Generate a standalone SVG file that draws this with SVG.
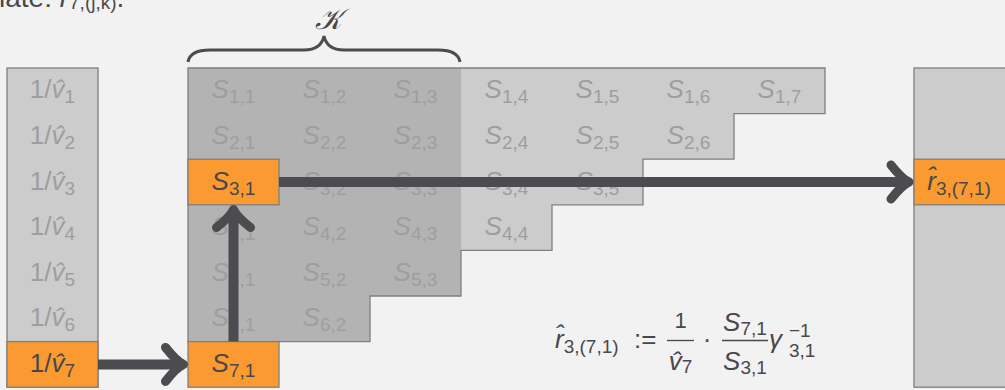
<svg xmlns="http://www.w3.org/2000/svg" width="1005" height="390" viewBox="0 0 1005 390">
<style>
  text { font-family: "Liberation Sans", Arial, sans-serif; font-size: 26px; }
  .fade { fill: #9e9e9e; }
  .ink { fill: #48484c; }
  .it { font-style: italic; }
  .sub { font-size: 19px; }
  .col { fill: #cccccc; stroke: #7f7f7f; stroke-width: 1.3; }
  .hi { fill: #fb9a31; stroke: #7f7f7f; stroke-width: 1.3; }
  .conn { fill: none; stroke: #4b4b50; stroke-width: 10; }
</style>
<defs>
  <marker id="arrow" viewBox="-25 -25 50 50" refX="0" refY="0" markerWidth="50" markerHeight="50" markerUnits="userSpaceOnUse" orient="auto" overflow="visible">
    <path d="M-18,-17 Q-7,-3 0,0 Q-7,3 -18,17" fill="none" stroke="#4b4b50" stroke-width="9" stroke-linecap="round" stroke-linejoin="round"/>
  </marker>
</defs>
<rect x="0" y="0" width="1005" height="390" fill="#f2f2f2"/>

<g id="caption-top">
  <text x="-1" y="7" class="ink" style="font-size:28px">iate: <tspan class="it">r̂</tspan><tspan class="sub" dy="2">7,(j,k)</tspan><tspan dy="-2">.</tspan></text>
</g>

<g id="vector-v">
  <rect class="col" x="7" y="68" width="91" height="319.2"/>
  <text class="fade" x="52.5" y="98.3" text-anchor="middle">1/<tspan class="it">v̂</tspan><tspan class="sub" dy="5">1</tspan></text>
  <text class="fade" x="52.5" y="143.9" text-anchor="middle">1/<tspan class="it">v̂</tspan><tspan class="sub" dy="5">2</tspan></text>
  <text class="fade" x="52.5" y="189.5" text-anchor="middle">1/<tspan class="it">v̂</tspan><tspan class="sub" dy="5">3</tspan></text>
  <text class="fade" x="52.5" y="235.1" text-anchor="middle">1/<tspan class="it">v̂</tspan><tspan class="sub" dy="5">4</tspan></text>
  <text class="fade" x="52.5" y="280.7" text-anchor="middle">1/<tspan class="it">v̂</tspan><tspan class="sub" dy="5">5</tspan></text>
  <text class="fade" x="52.5" y="326.3" text-anchor="middle">1/<tspan class="it">v̂</tspan><tspan class="sub" dy="5">6</tspan></text>
</g>
<g id="node-inv-v7">
  <rect class="hi" x="7" y="341.6" width="91" height="45.6"/>
  <text class="ink" x="52.5" y="371.9" text-anchor="middle">1/<tspan class="it">v̂</tspan><tspan class="sub" dy="5">7</tspan></text>
</g>

<g id="matrix-S">
  <polygon fill="#cccccc" points="188,68 825,68 825,113.6 734,113.6 734,159.2 643,159.2 643,204.8 552,204.8 552,250.4 461,250.4 461,296 370,296 370,341.6 188,341.6"/>
  <polygon fill="#b3b3b3" points="188,68 461,68 461,296 370,296 370,341.6 188,341.6"/>
  <polygon fill="none" stroke="#7f7f7f" stroke-width="1.3" points="188,68 825,68 825,113.6 734,113.6 734,159.2 643,159.2 643,204.8 552,204.8 552,250.4 461,250.4 461,296 370,296 370,341.6 188,341.6"/>
  <g class="fade">
    <text x="233.5" y="98.3" text-anchor="middle"><tspan class="it">S</tspan><tspan class="sub" dy="5">1,1</tspan></text>
    <text x="324.5" y="98.3" text-anchor="middle"><tspan class="it">S</tspan><tspan class="sub" dy="5">1,2</tspan></text>
    <text x="415.5" y="98.3" text-anchor="middle"><tspan class="it">S</tspan><tspan class="sub" dy="5">1,3</tspan></text>
    <text x="506.5" y="98.3" text-anchor="middle"><tspan class="it">S</tspan><tspan class="sub" dy="5">1,4</tspan></text>
    <text x="597.5" y="98.3" text-anchor="middle"><tspan class="it">S</tspan><tspan class="sub" dy="5">1,5</tspan></text>
    <text x="688.5" y="98.3" text-anchor="middle"><tspan class="it">S</tspan><tspan class="sub" dy="5">1,6</tspan></text>
    <text x="779.5" y="98.3" text-anchor="middle"><tspan class="it">S</tspan><tspan class="sub" dy="5">1,7</tspan></text>

    <text x="233.5" y="143.9" text-anchor="middle"><tspan class="it">S</tspan><tspan class="sub" dy="5">2,1</tspan></text>
    <text x="324.5" y="143.9" text-anchor="middle"><tspan class="it">S</tspan><tspan class="sub" dy="5">2,2</tspan></text>
    <text x="415.5" y="143.9" text-anchor="middle"><tspan class="it">S</tspan><tspan class="sub" dy="5">2,3</tspan></text>
    <text x="506.5" y="143.9" text-anchor="middle"><tspan class="it">S</tspan><tspan class="sub" dy="5">2,4</tspan></text>
    <text x="597.5" y="143.9" text-anchor="middle"><tspan class="it">S</tspan><tspan class="sub" dy="5">2,5</tspan></text>
    <text x="688.5" y="143.9" text-anchor="middle"><tspan class="it">S</tspan><tspan class="sub" dy="5">2,6</tspan></text>

    <text x="324.5" y="189.5" text-anchor="middle"><tspan class="it">S</tspan><tspan class="sub" dy="5">3,2</tspan></text>
    <text x="415.5" y="189.5" text-anchor="middle"><tspan class="it">S</tspan><tspan class="sub" dy="5">3,3</tspan></text>
    <text x="506.5" y="189.5" text-anchor="middle"><tspan class="it">S</tspan><tspan class="sub" dy="5">3,4</tspan></text>
    <text x="597.5" y="189.5" text-anchor="middle"><tspan class="it">S</tspan><tspan class="sub" dy="5">3,5</tspan></text>

    <text x="233.5" y="235.1" text-anchor="middle"><tspan class="it">S</tspan><tspan class="sub" dy="5">4,1</tspan></text>
    <text x="324.5" y="235.1" text-anchor="middle"><tspan class="it">S</tspan><tspan class="sub" dy="5">4,2</tspan></text>
    <text x="415.5" y="235.1" text-anchor="middle"><tspan class="it">S</tspan><tspan class="sub" dy="5">4,3</tspan></text>
    <text x="506.5" y="235.1" text-anchor="middle"><tspan class="it">S</tspan><tspan class="sub" dy="5">4,4</tspan></text>

    <text x="233.5" y="280.7" text-anchor="middle"><tspan class="it">S</tspan><tspan class="sub" dy="5">5,1</tspan></text>
    <text x="324.5" y="280.7" text-anchor="middle"><tspan class="it">S</tspan><tspan class="sub" dy="5">5,2</tspan></text>
    <text x="415.5" y="280.7" text-anchor="middle"><tspan class="it">S</tspan><tspan class="sub" dy="5">5,3</tspan></text>

    <text x="233.5" y="326.3" text-anchor="middle"><tspan class="it">S</tspan><tspan class="sub" dy="5">6,1</tspan></text>
    <text x="324.5" y="326.3" text-anchor="middle"><tspan class="it">S</tspan><tspan class="sub" dy="5">6,2</tspan></text>
  </g>
</g>

<g id="node-S31">
  <rect class="hi" x="188" y="159.2" width="91" height="45.6"/>
  <text class="ink" x="233.5" y="189.5" text-anchor="middle"><tspan class="it">S</tspan><tspan class="sub" dy="5">3,1</tspan></text>
</g>
<g id="node-S71">
  <rect class="hi" x="188" y="341.6" width="91" height="45.6"/>
  <text class="ink" x="233.5" y="371.9" text-anchor="middle"><tspan class="it">S</tspan><tspan class="sub" dy="5">7,1</tspan></text>
</g>

<g id="vector-r">
  <rect class="col" x="914" y="68" width="92" height="319.2"/>
</g>
<g id="node-r371">
  <rect class="hi" x="914" y="159.2" width="92" height="45.6"/>
  <text class="ink" x="959" y="189.5" text-anchor="middle"><tspan class="it">r̂</tspan><tspan class="sub" dy="5">3,(7,1)</tspan></text>
</g>

<g id="brace-K">
  <path d="M188,62 Q190,50 210,50 L304,50 Q321,50 324,36 Q327,50 344,50 L438,50 Q458,50 460,62" fill="none" stroke="#4b4b50" stroke-width="3"/>
  <text class="ink" x="328" y="29" text-anchor="middle" style="font-family:'DejaVu Serif','Liberation Serif',serif;font-style:italic;font-size:29px">𝒦</text>
</g>

<g id="connectors">
  <path class="conn" d="M98,364.4 L183.5,364.4" marker-end="url(#arrow)"/>
  <path class="conn" d="M233.5,341.6 L233.5,209.5" marker-end="url(#arrow)"/>
  <path class="conn" d="M279,182 L909,182" marker-end="url(#arrow)"/>
</g>

<g id="formula" class="ink">
  <text x="555" y="348"><tspan class="it">r̂</tspan><tspan class="sub" dy="5">3,(7,1)</tspan></text>
  <text x="634" y="348">:=</text>
  <text x="680.5" y="328" text-anchor="middle" style="font-size:22px">1</text>
  <line x1="667" y1="340.5" x2="694" y2="340.5" stroke="#48484c" stroke-width="1.3"/>
  <text x="680.5" y="370" text-anchor="middle"><tspan class="it">v̂</tspan><tspan class="sub" dy="3">7</tspan></text>
  <text x="707" y="348" text-anchor="middle">·</text>
  <text x="745" y="331" text-anchor="middle"><tspan class="it">S</tspan><tspan class="sub" dy="4">7,1</tspan></text>
  <line x1="722" y1="340.5" x2="768" y2="340.5" stroke="#48484c" stroke-width="1.3"/>
  <text x="745" y="370" text-anchor="middle"><tspan class="it">S</tspan><tspan class="sub" dy="4">3,1</tspan></text>
  <text x="769" y="348" class="it">γ</text>
  <text x="789" y="337" class="sub">−1</text>
  <text x="789" y="357" class="sub">3,1</text>
</g>
</svg>
